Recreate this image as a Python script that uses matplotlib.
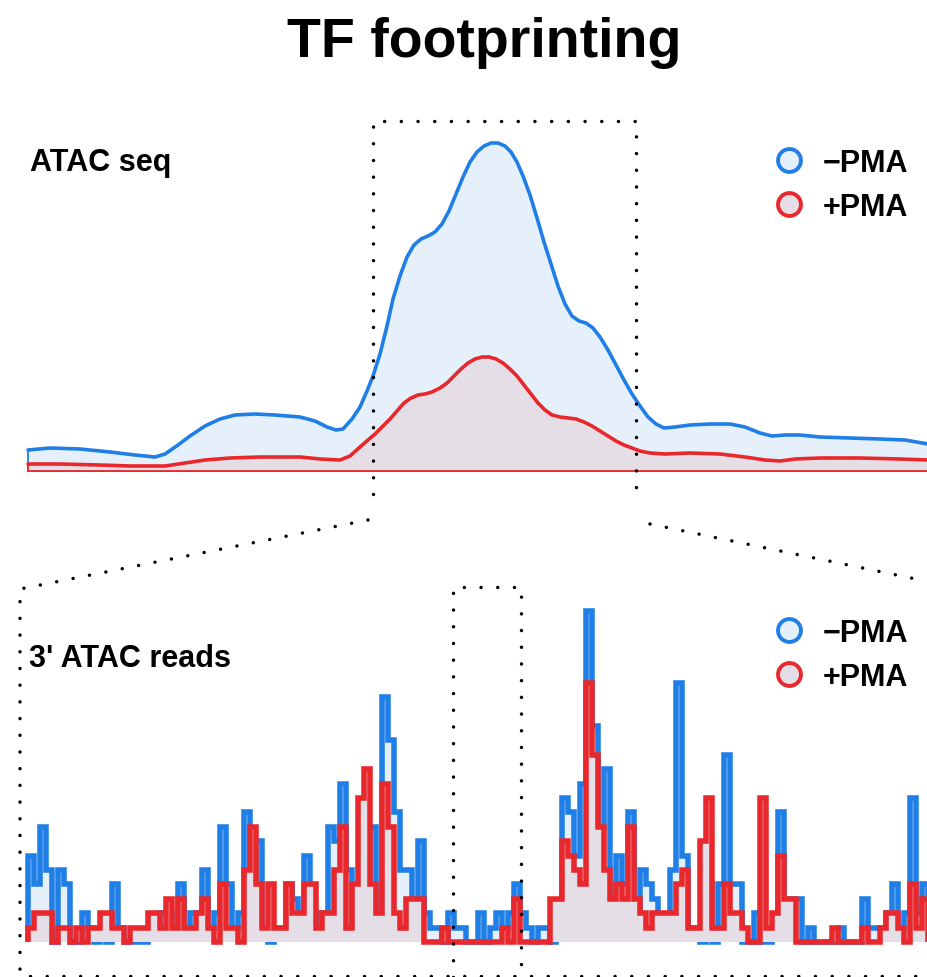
import numpy as np
import matplotlib.pyplot as plt
from matplotlib.lines import Line2D

plt.rcParams['font.family'] = ['Liberation Sans', 'DejaVu Sans']

BLUE = '#1f7fe6'
RED = '#e8282c'
BLUE_FILL = '#e6f0fb'
RED_FILL = '#e5dee6'
LABELS = ['\u2212PMA', '+PMA']

# ATAC-seq coverage (smoothed)
atac_pos_minus = [28, 50, 80, 110, 135, 155, 165, 178, 190, 205, 220, 235, 255, 275,
                  300, 315, 327, 336, 343, 352, 360, 367, 373, 380, 387, 393, 400, 407,
                  414, 421, 428, 435, 442, 449, 456, 463, 470, 477, 484, 491, 498, 505,
                  511, 517, 523, 530, 537, 544, 551, 558, 565, 572, 579, 586, 593, 600,
                  608, 616, 624, 632, 640, 648, 656, 664, 675, 690, 710, 730, 745, 760,
                  772, 785, 800, 820, 850, 880, 905, 928]
atac_minus = [21, 23, 22, 19, 16, 14, 17, 26, 35, 45, 52, 56, 57, 56,
              54, 50, 44, 41, 42, 52, 64, 80, 95, 117, 145, 172, 195, 214,
              226, 232, 235, 239, 247, 260, 277, 294, 309, 319, 325, 328, 328, 325,
              319, 309, 295, 276, 253, 229, 207, 185, 167, 155, 150, 148, 143, 134,
              121, 106, 91, 77, 65, 54, 47, 43, 44, 46, 47, 47, 44, 38,
              35, 36, 36, 34, 33, 32, 31, 27]

atac_pos_plus = [28, 60, 100, 130, 165, 185, 205, 230, 260, 300, 320, 340, 350, 360,
                 368, 375, 383, 390, 397, 404, 411, 418, 425, 432, 440, 447, 454, 461,
                 468, 475, 482, 489, 496, 503, 510, 517, 524, 531, 538, 545, 552, 560,
                 568, 576, 584, 592, 600, 608, 616, 624, 632, 640, 650, 665, 690, 720,
                 745, 765, 780, 795, 820, 860, 900, 928]
atac_plus = [7, 7, 6, 5, 5, 8, 11, 13, 14, 14, 12, 11, 15, 24,
             31, 37, 45, 52, 60, 68, 73, 76, 77, 79, 83, 88, 95, 102,
             108, 112, 114, 114, 112, 108, 102, 95, 86, 77, 68, 61, 56, 54,
             53, 52, 49, 45, 40, 35, 30, 26, 23, 20, 18, 17, 18, 17,
             14, 11, 10, 12, 13, 13, 12, 11]

# 3' ATAC read counts per bin
bin_start = 28
bin_width = 6
reads_minus = [6, 4, 8, 5, 0, 5, 4, 0, 0, 2,
               1, 0, 1, 0, 4, 1, 0, 0, 0, 0,
               1, 1, 2, 2, 1, 4, 1, 2, 2, 5,
               1, 2, 8, 4, 1, 2, 9, 1, 7, 1,
               0, 1, 1, 4, 3, 1, 6, 1, 2, 1,
               8, 7, 11, 5, 1, 1, 1, 8, 2, 17,
               14, 9, 5, 5, 3, 7, 2, 1, 1, 0,
               2, 1, 1, 0, 0, 2, 0, 1, 2, 1,
               2, 4, 2, 1, 0, 1, 1, 0, 1, 10,
               9, 6, 11, 23, 15, 8, 12, 1, 6, 4,
               9, 2, 5, 4, 3, 1, 1, 5, 18, 6,
               1, 1, 0, 4, 0, 4, 13, 4, 4, 0,
               0, 2, 0, 0, 1, 9, 1, 3, 3, 0,
               1, 0, 0, 0, 0, 1, 0, 0, 0, 3,
               1, 1, 1, 2, 4, 1, 2, 10, 2, 4]
reads_plus = [1, 2, 2, 2, 0, 1, 1, 0, 1, 0,
              1, 1, 2, 2, 1, 1, 0, 1, 1, 1,
              2, 2, 1, 3, 1, 3, 1, 1, 2, 3,
              1, 0, 4, 1, 1, 0, 5, 8, 4, 1,
              4, 1, 1, 4, 2, 2, 4, 4, 1, 2,
              2, 5, 8, 1, 4, 10, 12, 4, 2, 11,
              8, 2, 1, 3, 3, 3, 0, 0, 0, 1,
              0, 0, 0, 0, 0, 0, 0, 0, 0, 1,
              0, 3, 0, 0, 0, 0, 0, 3, 3, 7,
              6, 5, 4, 18, 13, 8, 5, 3, 4, 3,
              8, 3, 2, 1, 2, 2, 2, 2, 4, 5,
              1, 1, 7, 10, 1, 1, 4, 2, 2, 1,
              0, 0, 10, 1, 2, 6, 3, 3, 0, 0,
              0, 0, 0, 0, 1, 0, 0, 0, 0, 1,
              0, 0, 1, 2, 2, 1, 0, 4, 1, 3]

W, H = 928, 978
fig = plt.figure(figsize=(W / 100, H / 100), dpi=100)


def px_axes(x0, y0, x1, y1):
    ax = fig.add_axes([x0 / W, 1 - y1 / H, (x1 - x0) / W, (y1 - y0) / H])
    ax.set_axis_off()
    return ax


def legend(ax, top_px):
    handles = [Line2D([], [], ls='none', marker='o', ms=16.5, mew=2.8,
                      mfc=BLUE_FILL, mec=BLUE),
               Line2D([], [], ls='none', marker='o', ms=16.5, mew=2.8,
                      mfc=RED_FILL, mec=RED)]
    ax.legend(handles, LABELS, loc='upper left', frameon=False,
              bbox_to_anchor=(768 / W, 1 - top_px / H), bbox_transform=fig.transFigure,
              borderpad=0, borderaxespad=0, handlelength=1.4, handletextpad=0.4,
              labelspacing=0.45, prop={'size': 22, 'weight': 'bold'})


# ---- ATAC seq panel ----
ax1 = px_axes(0, 100, W, 480)
ax1.set_xlim(0, W)
ax1.set_ylim(-8, 372)
for pos, val, fc, ec in [(atac_pos_minus, atac_minus, BLUE_FILL, BLUE),
                         (atac_pos_plus, atac_plus, RED_FILL, RED)]:
    xs = [pos[0]] + pos + [pos[-1]]
    ys = [0] + val + [0]
    ax1.fill(xs, ys, facecolor=fc, edgecolor=ec, lw=1.3)
    ax1.plot(pos, val, color=ec, lw=2.6, solid_joinstyle='round',
             solid_capstyle='round')
legend(ax1, 149)

# ---- 3' ATAC reads panel ----
edges = bin_start + bin_width * np.arange(len(reads_minus) + 1)
ax2 = px_axes(0, 585, W, 955)
ax2.set_xlim(0, W)
ax2.set_ylim(-12 / 14.4, (943 - 585) / 14.4)
ax2.stairs(reads_minus, edges, baseline=0, fill=True,
           facecolor=BLUE_FILL, edgecolor=BLUE, lw=4.0)
ax2.stairs(reads_plus, edges, baseline=0, fill=True,
           facecolor=RED_FILL, edgecolor=RED, lw=4.0)
legend(ax2, 619)

# ---- text ----
fig.text(484 / W, 1 - 57 / H, 'TF footprinting', ha='center', va='baseline',
         fontsize=40, fontweight='bold')
fig.text(30 / W, 1 - 171 / H, 'ATAC seq', va='baseline', fontsize=22, fontweight='bold')
fig.text(29 / W, 1 - 667 / H, "3' ATAC reads", va='baseline', fontsize=22,
         fontweight='bold')

# ---- dotted zoom guides ----
ov = px_axes(0, 0, W, H)
ov.set_xlim(0, W)
ov.set_ylim(H, 0)
dot = dict(color='black', lw=2.5, ls=(0, (0.01, 4.8)), dash_capstyle='round', clip_on=False)
ov.plot([373, 373, 636, 636], [495, 122, 122, 495], **dot)
ov.plot([368, 20, 20], [521, 590, 978], **dot)
ov.plot([650, 940], [525, 585], **dot)
ov.plot([453, 453, 521, 521], [978, 588, 588, 978], **dot)
ov.plot([30, 928], [977, 977], **dot)

fig.savefig('out.png', dpi=100)
